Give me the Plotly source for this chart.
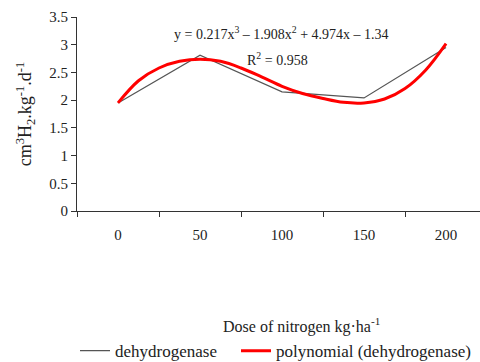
import plotly.graph_objects as go

doses = [0, 50, 100, 150, 200]
dehydrogenase = [1.95, 2.81, 2.15, 2.04, 2.95]

fit_doses = [0, 12.5, 25, 37.5, 50, 62.5, 75, 87.5, 100, 112.5, 125, 137.5, 150, 162.5, 175, 187.5, 200]
fit_values = [1.95, 2.35, 2.58, 2.70, 2.74, 2.70, 2.58, 2.42, 2.25, 2.12, 2.03, 1.96, 1.95, 2.02, 2.21, 2.54, 3.02]

y_ticks = [0, 0.5, 1, 1.5, 2, 2.5, 3, 3.5]
y_tick_text = ["0", "0.5", "1", "1.5", "2", "2.5", "3", "3.5"]

equation_text = "y = 0.217x<sup>3</sup> – 1.908x<sup>2</sup> + 4.974x – 1.34"
r2_text = "R<sup>2</sup> = 0.958"

SERIF = "Liberation Serif, Times New Roman, serif"

fig = go.Figure()
fig.add_trace(go.Scatter(x=doses, y=dehydrogenase, mode="lines", name="dehydrogenase",
                         line=dict(color="#555555", width=1.2), legend="legend"))
fig.add_trace(go.Scatter(x=fit_doses, y=fit_values, mode="lines", name="polynomial (dehydrogenase)",
                         line=dict(color="#ff0000", width=3, shape="spline", smoothing=1),
                         legend="legend2"))

legend_common = dict(orientation="h", xref="container", yref="container",
                     y=0.03, xanchor="left", yanchor="middle",
                     font=dict(size=17, family=SERIF), itemwidth=30,
                     bgcolor="rgba(0,0,0,0)")

fig.update_layout(
    width=480, height=362,
    margin=dict(l=77, r=0, t=17, b=151),
    paper_bgcolor="white", plot_bgcolor="white",
    font=dict(family=SERIF, color="#222222", size=14),
    showlegend=True,
    legend=dict(x=75 / 480, **legend_common),
    legend2=dict(x=236 / 480, **legend_common),
    xaxis=dict(range=[-25, 220.7], showgrid=False, zeroline=False,
               showline=True, linecolor="#333333", linewidth=1,
               tickmode="array", tickvals=doses, ticktext=[str(d) for d in doses],
               ticks="", ticklabelstandoff=10,
               tickfont=dict(size=15, family=SERIF),
               minor=dict(tickmode="array", tickvals=[-25, 25, 75, 125, 175, 225],
                          ticks="outside", ticklen=5, tickcolor="#333333")),
    yaxis=dict(range=[0, 3.5], showgrid=False, zeroline=False,
               showline=True, linecolor="#333333", linewidth=1,
               tickmode="array", tickvals=y_ticks, ticktext=y_tick_text,
               ticks="outside", ticklen=5, tickcolor="#333333",
               tickfont=dict(size=15, family=SERIF),
               title=dict(text="cm<sup>3</sup>H<sub>2</sub>.kg<sup>-1</sup>.d<sup>-1</sup>",
                          font=dict(size=18, family=SERIF), standoff=12)),
)

fig.add_annotation(text=equation_text, xref="paper", yref="paper",
                   x=(281 - 77) / 403, y=(210.7 - 21.7) / 194, showarrow=False,
                   font=dict(size=14, family=SERIF))
fig.add_annotation(text=r2_text, xref="paper", yref="paper",
                   x=(277 - 77) / 403, y=(210.7 - 48) / 194, showarrow=False,
                   font=dict(size=14, family=SERIF))
fig.add_annotation(text="Dose of nitrogen kg·ha<sup>-1</sup>", xref="paper", yref="paper",
                   x=(301 - 77) / 403, y=(210.7 - 325) / 194, showarrow=False,
                   xanchor="center", yanchor="middle",
                   font=dict(size=16, family=SERIF))

fig.write_html("out.html")
